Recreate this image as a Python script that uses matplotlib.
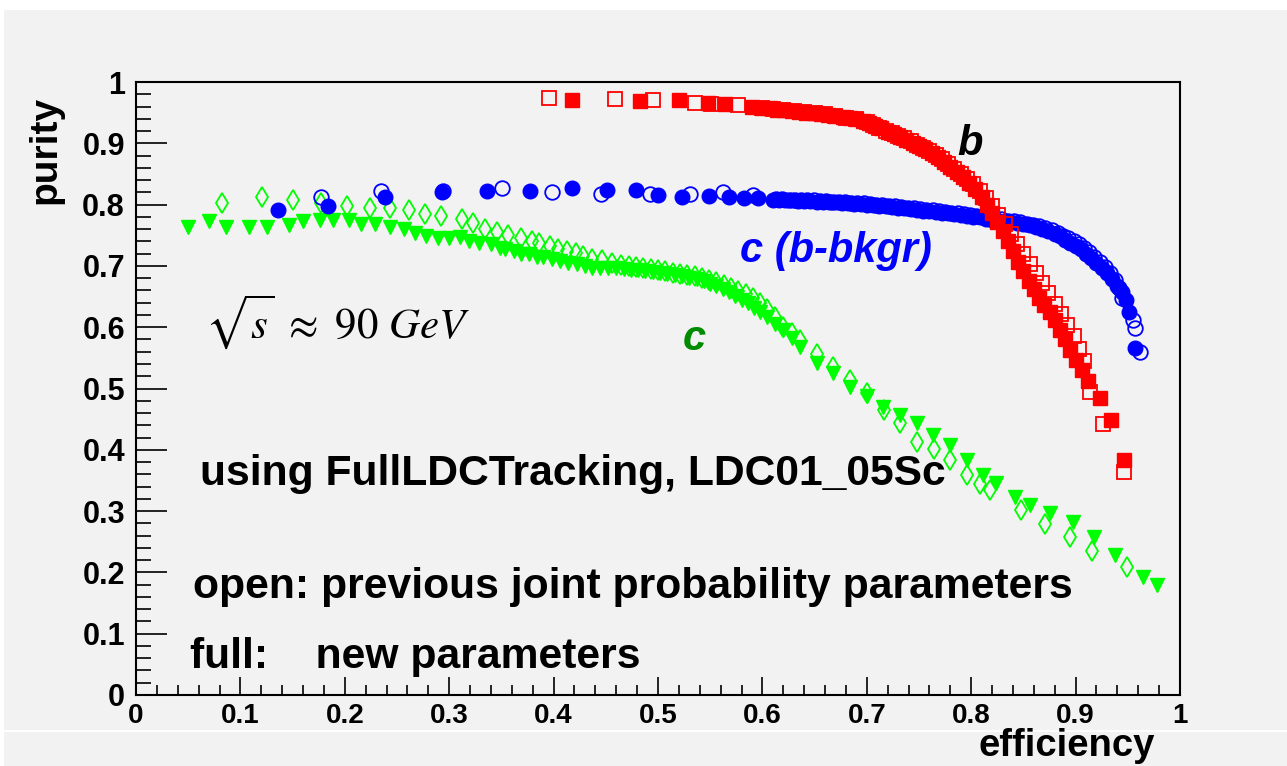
import matplotlib
matplotlib.use('Agg')
import matplotlib.pyplot as plt
from matplotlib.patches import Rectangle
from matplotlib.lines import Line2D
from matplotlib.ticker import MultipleLocator, FuncFormatter

plt.rcParams['font.family'] = ['Liberation Sans', 'DejaVu Sans']
plt.rcParams['mathtext.fontset'] = 'stix'

# b purity vs efficiency, full = new parameters, open = previous
b_new_x = [0.418, 0.483, 0.520, 0.548, 0.564, 0.590,
           0.600, 0.607, 0.614, 0.621, 0.628, 0.635, 0.642, 0.649, 0.656, 0.663, 0.670, 0.677,
           0.684, 0.690, 0.696, 0.702, 0.708, 0.714, 0.720, 0.726, 0.732, 0.738, 0.744, 0.750,
           0.756, 0.762, 0.768, 0.774, 0.780, 0.786, 0.792, 0.798, 0.804, 0.810, 0.815, 0.820,
           0.825, 0.830, 0.835, 0.840, 0.845, 0.850, 0.855, 0.860, 0.865, 0.870, 0.875, 0.880,
           0.885, 0.890, 0.895, 0.900, 0.906, 0.912, 0.923, 0.934, 0.946]
b_new_y = [0.971, 0.969, 0.971, 0.966, 0.964, 0.960,
           0.958, 0.957, 0.955, 0.954, 0.952, 0.951, 0.950, 0.949, 0.947, 0.946, 0.945, 0.943,
           0.941, 0.939, 0.936, 0.933, 0.929, 0.925, 0.919, 0.915, 0.911, 0.906, 0.901, 0.896,
           0.890, 0.884, 0.877, 0.869, 0.861, 0.853, 0.845, 0.836, 0.825, 0.812, 0.800, 0.787,
           0.772, 0.757, 0.740, 0.724, 0.707, 0.692, 0.676, 0.662, 0.648, 0.636, 0.624, 0.612,
           0.596, 0.580, 0.562, 0.546, 0.530, 0.512, 0.485, 0.449, 0.383]
b_old_x = [0.396, 0.459, 0.495, 0.535, 0.551, 0.577,
           0.600, 0.610, 0.620, 0.630, 0.640, 0.650, 0.660, 0.670, 0.680, 0.690, 0.700, 0.706,
           0.712, 0.718, 0.724, 0.730, 0.736, 0.742, 0.748, 0.754, 0.760, 0.766, 0.772, 0.778,
           0.784, 0.790, 0.796, 0.802, 0.808, 0.814, 0.820, 0.826, 0.832, 0.838, 0.844, 0.850,
           0.856, 0.862, 0.868, 0.874, 0.880, 0.886, 0.892, 0.898, 0.903, 0.908, 0.914, 0.926,
           0.946]
b_old_y = [0.974, 0.973, 0.971, 0.966, 0.964, 0.963,
           0.958, 0.956, 0.954, 0.953, 0.951, 0.949, 0.947, 0.945, 0.942, 0.939, 0.935, 0.930,
           0.925, 0.920, 0.916, 0.912, 0.908, 0.903, 0.898, 0.893, 0.887, 0.881, 0.874, 0.866,
           0.858, 0.850, 0.842, 0.833, 0.822, 0.810, 0.797, 0.783, 0.768, 0.752, 0.736, 0.719,
           0.703, 0.688, 0.672, 0.655, 0.638, 0.622, 0.604, 0.585, 0.565, 0.545, 0.494, 0.442,
           0.364]

# c with b background
cb_new_x = [0.136, 0.184, 0.2385, 0.293, 0.3365, 0.377, 0.418, 0.4515, 0.479, 0.500, 0.523,
            0.549, 0.568, 0.582, 0.596,
            0.610, 0.616, 0.622, 0.628, 0.634, 0.640, 0.646, 0.652, 0.658, 0.664, 0.670, 0.676,
            0.682, 0.688, 0.694, 0.700, 0.706, 0.712, 0.718, 0.724, 0.730, 0.736, 0.742, 0.748,
            0.754, 0.760, 0.766, 0.772, 0.778, 0.784, 0.790, 0.796, 0.802, 0.808, 0.814, 0.820,
            0.826, 0.832, 0.838, 0.844, 0.850, 0.856, 0.862, 0.868, 0.874, 0.880,
            0.885, 0.890, 0.895, 0.900, 0.905, 0.910, 0.915, 0.920, 0.925, 0.930, 0.935, 0.940,
            0.944, 0.948, 0.951, 0.957]
cb_new_y = [0.791, 0.798, 0.813, 0.821, 0.8225, 0.8225, 0.8265, 0.8245, 0.8245, 0.816, 0.8125,
            0.814, 0.813, 0.811, 0.810,
            0.808, 0.808, 0.807, 0.807, 0.806, 0.806, 0.806, 0.805, 0.805, 0.804, 0.804, 0.803,
            0.802, 0.801, 0.801, 0.800, 0.799, 0.798, 0.797, 0.796, 0.795, 0.794, 0.793, 0.792,
            0.790, 0.789, 0.788, 0.787, 0.786, 0.784, 0.783, 0.782, 0.780, 0.779, 0.777, 0.775,
            0.774, 0.773, 0.771, 0.770, 0.768, 0.766, 0.763, 0.760, 0.757, 0.752,
            0.748, 0.743, 0.738, 0.733, 0.727, 0.720, 0.713, 0.705, 0.697, 0.688, 0.678, 0.668,
            0.657, 0.645, 0.625, 0.566]
cb_old_x = [0.177, 0.235, 0.294, 0.3506, 0.398, 0.4454, 0.4923, 0.5307, 0.5626, 0.591,
            0.613, 0.619, 0.625, 0.631, 0.637, 0.643, 0.649, 0.655, 0.661, 0.667, 0.673, 0.679,
            0.685, 0.691, 0.697, 0.703, 0.709, 0.715, 0.721, 0.727, 0.733, 0.739, 0.745, 0.751,
            0.757, 0.763, 0.769, 0.775, 0.781, 0.787, 0.793, 0.799, 0.805, 0.811, 0.817, 0.823,
            0.829, 0.835, 0.841, 0.847, 0.853, 0.859, 0.865, 0.871, 0.877, 0.883,
            0.888, 0.893, 0.898, 0.903, 0.908, 0.913, 0.918, 0.923, 0.928, 0.933, 0.938, 0.942,
            0.944, 0.955, 0.957, 0.962]
cb_old_y = [0.813, 0.822, 0.823, 0.8265, 0.8205, 0.817, 0.818, 0.818, 0.821, 0.816,
            0.809, 0.809, 0.808, 0.808, 0.808, 0.807, 0.807, 0.806, 0.806, 0.805, 0.805, 0.804,
            0.803, 0.803, 0.802, 0.801, 0.800, 0.799, 0.798, 0.797, 0.796, 0.795, 0.794, 0.793,
            0.792, 0.791, 0.790, 0.788, 0.787, 0.786, 0.785, 0.783, 0.782, 0.780, 0.779, 0.777,
            0.776, 0.774, 0.773, 0.771, 0.769, 0.767, 0.765, 0.762, 0.758, 0.753,
            0.749, 0.745, 0.740, 0.735, 0.729, 0.722, 0.715, 0.707, 0.698, 0.688, 0.677, 0.664,
            0.648, 0.612, 0.599, 0.5595]

# c (light background)
c_new_x = [0.0495, 0.0696, 0.0865, 0.108, 0.125, 0.147, 0.160, 0.176, 0.189, 0.204, 0.2155,
           0.229, 0.243, 0.257, 0.267, 0.278, 0.289, 0.2995, 0.310, 0.319, 0.329, 0.340, 0.349,
           0.353, 0.362, 0.369, 0.376, 0.384, 0.390, 0.398, 0.406, 0.414, 0.422, 0.430, 0.4365,
           0.444, 0.452, 0.460, 0.467, 0.474, 0.481, 0.488, 0.495, 0.502, 0.509, 0.516, 0.523,
           0.530, 0.537, 0.544, 0.550, 0.556, 0.562, 0.568, 0.574, 0.580, 0.586, 0.592, 0.598,
           0.604, 0.612, 0.620, 0.628, 0.636, 0.652, 0.668, 0.684, 0.700, 0.7155, 0.732, 0.748,
           0.763, 0.780, 0.796, 0.811, 0.824, 0.842, 0.856, 0.875, 0.8975, 0.918, 0.938, 0.9646,
           0.978]
c_new_y = [0.764, 0.774, 0.764, 0.764, 0.764, 0.767, 0.773, 0.775, 0.775, 0.775, 0.768,
           0.768, 0.764, 0.761, 0.754, 0.749, 0.746, 0.746, 0.747, 0.741, 0.738, 0.736, 0.730,
           0.727, 0.724, 0.720, 0.719, 0.715, 0.714, 0.711, 0.708, 0.705, 0.703, 0.700, 0.696,
           0.697, 0.696, 0.696, 0.695, 0.694, 0.693, 0.691, 0.690, 0.688, 0.687, 0.685, 0.683,
           0.681, 0.678, 0.675, 0.671, 0.667, 0.662, 0.657, 0.651, 0.645, 0.639, 0.632, 0.624,
           0.616, 0.605, 0.595, 0.582, 0.568, 0.541, 0.525, 0.503, 0.487, 0.470, 0.457, 0.443,
           0.424, 0.408, 0.383, 0.359, 0.346, 0.323, 0.310, 0.297, 0.282, 0.258, 0.228, 0.1925,
           0.179]
c_old_x = [0.082, 0.1207, 0.1507, 0.177, 0.202, 0.224, 0.243, 0.2615, 0.277, 0.292, 0.312,
           0.323, 0.334, 0.3455, 0.356, 0.3685, 0.379, 0.386, 0.3966, 0.404, 0.413, 0.421,
           0.4285, 0.437, 0.4467, 0.4557, 0.465, 0.472, 0.479, 0.486, 0.493, 0.500, 0.507,
           0.514, 0.521, 0.528, 0.535, 0.542, 0.549, 0.556, 0.563, 0.570, 0.577, 0.584, 0.591,
           0.598, 0.604, 0.612, 0.620, 0.628, 0.636, 0.652, 0.668, 0.684, 0.700, 0.716, 0.732,
           0.748, 0.764, 0.780, 0.796, 0.808, 0.818, 0.848, 0.871, 0.895, 0.916, 0.949]
c_old_y = [0.803, 0.813, 0.8075, 0.802, 0.798, 0.795, 0.794, 0.791, 0.785, 0.782, 0.776,
           0.770, 0.761, 0.756, 0.750, 0.745, 0.741, 0.738, 0.733, 0.7276, 0.724, 0.7215,
           0.716, 0.712, 0.710, 0.704, 0.701, 0.700, 0.698, 0.697, 0.695, 0.693, 0.691,
           0.689, 0.687, 0.685, 0.683, 0.680, 0.677, 0.673, 0.669, 0.664, 0.659, 0.654, 0.648,
           0.640, 0.630, 0.616, 0.601, 0.590, 0.579, 0.557, 0.5355, 0.514, 0.492, 0.465, 0.443,
           0.413, 0.402, 0.383, 0.359, 0.345, 0.334, 0.302, 0.279, 0.258, 0.235, 0.209]

bg = '#f2f2f2'
fig = plt.figure(figsize=(12.87, 7.66), dpi=100, facecolor='white')
fig.add_artist(Rectangle((4 / 1287, 0), 1, 756 / 766, transform=fig.transFigure,
                         facecolor=bg, edgecolor='none', zorder=-10))
fig.add_artist(Line2D([4 / 1287, 1], [1 - 731 / 766] * 2, transform=fig.transFigure,
                      color='white', lw=1.5))

ax = fig.add_axes([136 / 1287, 1 - 695 / 766, 1044 / 1287, 613 / 766])
ax.set_facecolor(bg)

ms = 10.5
ax.plot(c_old_x, c_old_y, 'd', ms=ms, mfc='none', mec='#00ff00', mew=1.3, ls='none')
ax.plot(c_new_x, c_new_y, 'v', ms=ms, color='#00ff00', ls='none')
ax.plot(cb_old_x, cb_old_y, 'o', ms=ms, mfc='none', mec='#0000ff', mew=1.3, ls='none')
ax.plot(cb_new_x, cb_new_y, 'o', ms=ms, color='#0000ff', ls='none')
ax.plot(b_old_x, b_old_y, 's', ms=ms, mfc='none', mec='#ff0000', mew=1.3, ls='none')
ax.plot(b_new_x, b_new_y, 's', ms=ms, color='#ff0000', ls='none')

ax.set_xlim(0, 1)
ax.set_ylim(0, 1)
ax.xaxis.set_major_locator(MultipleLocator(0.1))
ax.xaxis.set_minor_locator(MultipleLocator(0.02))
ax.yaxis.set_major_locator(MultipleLocator(0.1))
ax.yaxis.set_minor_locator(MultipleLocator(0.02))
ax.xaxis.set_major_formatter(FuncFormatter(lambda v, p: f'{v:g}'))
ax.yaxis.set_major_formatter(FuncFormatter(lambda v, p: f'{v:g}'))
for s in ax.spines.values():
    s.set_linewidth(1.5)
ax.tick_params(axis='x', which='major', direction='in', length=13, width=1.2, pad=6,
               labelsize=20)
ax.tick_params(axis='x', which='minor', direction='in', length=7, width=1.2)
ax.tick_params(axis='y', which='major', direction='in', length=22, width=1.2, pad=8,
               labelsize=22)
ax.tick_params(axis='y', which='minor', direction='in', length=11, width=1.2)
for lab in ax.get_xticklabels() + ax.get_yticklabels():
    lab.set_fontweight('bold')

fig.text(45 / 1287, 1 - 96 / 766, 'purity', rotation=90, ha='center', va='top',
         fontsize=28, fontweight='bold')
fig.text(1155 / 1287, 1 - 756 / 766, 'efficiency', ha='right', va='baseline',
         fontsize=27.5, fontweight='bold')

ax.text(0.787, 0.881, 'b', fontsize=30, fontweight='bold', style='italic', color='black')
ax.text(0.5785, 0.706, 'c (b-bkgr)', fontsize=30, fontweight='bold', style='italic',
        color='#0000ff')
ax.text(0.524, 0.563, 'c', fontsize=30, fontweight='bold', style='italic', color='#008a00')
ax.text(0.066, 0.582, r'$\sqrt{s}\ \approx\ 90\ GeV$', fontsize=31)
ax.text(0.0613, 0.3426, 'using FullLDCTracking, LDC01_05Sc', fontsize=30.7, fontweight='bold')
ax.text(0.0546, 0.158, 'open: previous joint probability parameters', fontsize=30.7,
        fontweight='bold')
ax.text(0.0517, 0.044, 'full:    new parameters', fontsize=30.7, fontweight='bold')

fig.savefig('out.png', dpi=100, facecolor=fig.get_facecolor())
